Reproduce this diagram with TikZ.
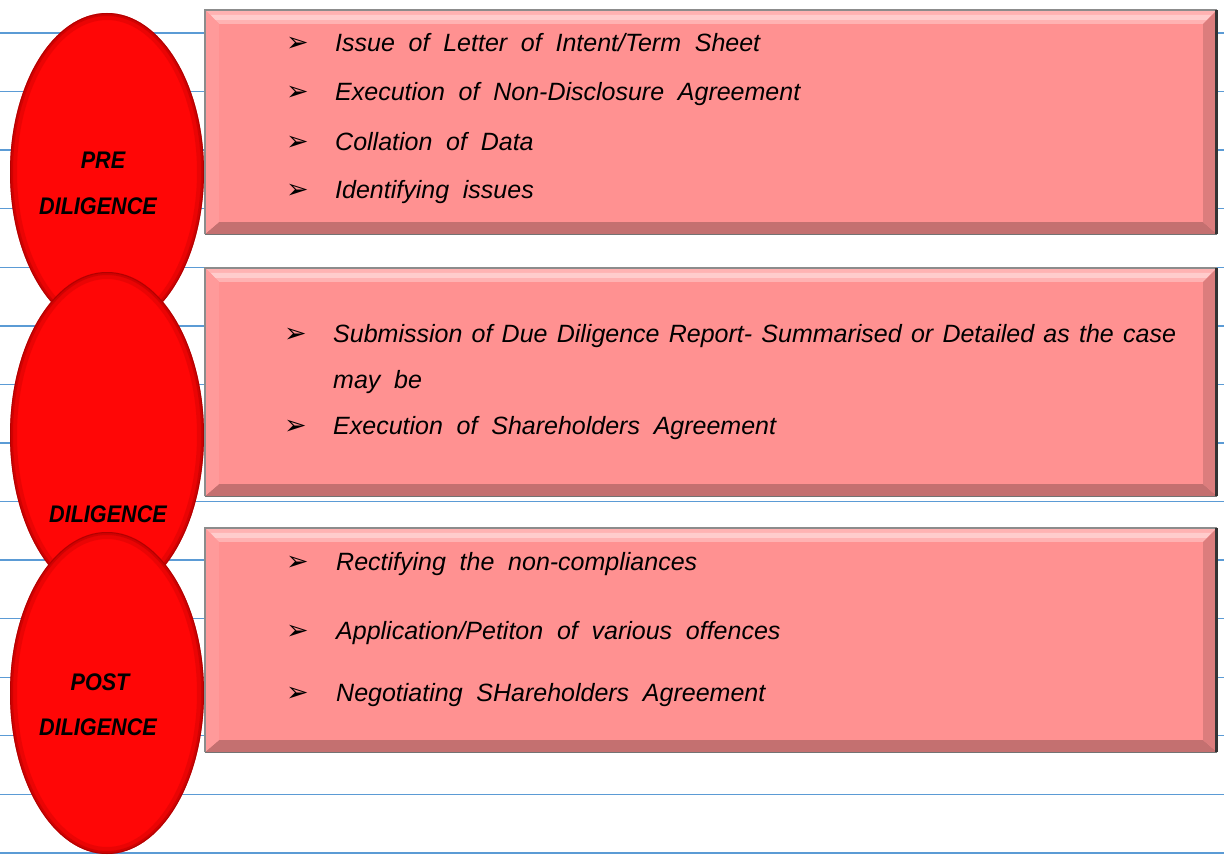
\documentclass[tikz,border=0pt]{standalone}
\usepackage{fontspec}
\setmainfont{Liberation Sans}
\newfontfamily\symf{DejaVu Sans}
\usetikzlibrary{shapes.geometric,calc}
\definecolor{gridblue}{RGB}{91,155,213}
\definecolor{boxpink}{RGB}{255,145,145}
\definecolor{boxlight}{RGB}{255,178,178}
\definecolor{boxdark}{RGB}{196,112,112}
\definecolor{ovalred}{RGB}{255,6,6}
\definecolor{ovaldark}{RGB}{150,0,0}
\newcommand\itemfont{\fontsize{25}{30}\selectfont\itshape\spaceskip=0.55em plus 0.1em\relax}
\newcommand\narrowitemfont{\fontsize{25}{30}\selectfont\itshape\spaceskip=0.37em plus 0.1em\relax}
\tikzset{
  gridline/.style={draw=gridblue,line width=1.3pt},
  oval/.style={ellipse,fill=ovalred,inner sep=0pt,minimum width=194pt},
  pinkbox/.style={rectangle,fill=boxpink,inner sep=0pt,minimum width=1012pt},
  item/.style={anchor=base west,inner sep=0pt,font=\itemfont},
  bul/.style={anchor=base west,inner sep=0pt,font=\symf\fontsize{27}{28}\selectfont},
  lab/.style={inner sep=0pt,font=\fontsize{24}{26}\selectfont\bfseries\itshape,xscale=0.9}
}
\newcommand\ovalbevel[1]{%
  \begin{scope}
    \clip (#1.center) ellipse [x radius=97pt,y radius=\ovr];
    \draw[ovaldark,opacity=0.2,line width=14pt] (#1.center) ellipse [x radius=97pt,y radius=\ovr];
    \draw[ovaldark,opacity=0.3,line width=6pt] (#1.center) ellipse [x radius=97pt,y radius=\ovr];
    \draw[ovaldark,opacity=0.5,line width=2pt] (#1.center) ellipse [x radius=97pt,y radius=\ovr];
  \end{scope}}
\newcommand\boxbevel[1]{%
  \fill[boxlight] (#1.north west) -- (#1.north east) -- ([xshift=-14pt,yshift=-14pt]#1.north east) -- ([xshift=14pt,yshift=-14pt]#1.north west) -- cycle;
  \fill[white,opacity=0.35] ([xshift=6pt,yshift=-5pt]#1.north west) -- ([xshift=-6pt,yshift=-5pt]#1.north east) -- ([xshift=-10pt,yshift=-10pt]#1.north east) -- ([xshift=10pt,yshift=-10pt]#1.north west) -- cycle;
  \fill[boxdark] (#1.south west) -- (#1.south east) -- ([xshift=-14pt,yshift=12pt]#1.south east) -- ([xshift=14pt,yshift=12pt]#1.south west) -- cycle;
  \fill[boxdark!60!boxpink] (#1.north east) -- (#1.south east) -- ([xshift=-14pt,yshift=12pt]#1.south east) -- ([xshift=-14pt,yshift=-14pt]#1.north east) -- cycle;
  \fill[boxpink!92!white] (#1.north west) -- (#1.south west) -- ([xshift=14pt,yshift=12pt]#1.south west) -- ([xshift=14pt,yshift=-14pt]#1.north west) -- cycle;
  \draw[black!45,line width=1.5pt] (#1.south west) -- (#1.north west) -- (#1.north east);
  \draw[black!55,line width=1.2pt] (#1.south west) -- (#1.south east);
  \draw[black!80,line width=3pt] ([xshift=-1pt]#1.north east) -- ([xshift=-1pt]#1.south east);
}
\begin{document}
\begin{tikzpicture}[x=1pt,y=-1pt]
\useasboundingbox (0,0) rectangle (1224,856);
% ruled lines
\foreach \k in {0,...,14}{
  \draw[gridline] (0,{33+\k*58.57}) -- (1224,{33+\k*58.57});
}
% ovals
\def\ovr{159pt}
\node[oval,minimum height=318pt] (e1) at (107,172) {};
\ovalbevel{e1}
\def\ovr{163pt}
\node[oval,minimum height=326pt] (e2) at (107,435) {};
\ovalbevel{e2}
\def\ovr{161pt}
\node[oval,minimum height=322pt] (e3) at (107,693) {};
\ovalbevel{e3}
\node[lab] (l1a) at (103,160) {PRE};
\node[lab] (l1b) at (98,206) {DILIGENCE};
\node[lab] (l2) at (108,514) {DILIGENCE};
\node[lab] (l3a) at (100,682) {POST};
\node[lab] (l3b) at (98,727) {DILIGENCE};
% boxes
\node[pinkbox,minimum height=224pt] (b1) at (711,122) {};
\boxbevel{b1}
\node[pinkbox,minimum height=228pt] (b2) at (711,382) {};
\boxbevel{b2}
\node[pinkbox,minimum height=224pt] (b3) at (711,640) {};
\boxbevel{b3}
% box 1 items
\node[bul] (ba1) at (286,52) {➢};
\node[item] (ta1) at (335,52) {Issue of Letter of Intent/Term Sheet};
\node[bul] (ba2) at (286,101) {➢};
\node[item] (ta2) at (335,101) {Execution of Non-Disclosure Agreement};
\node[bul] (ba3) at (286,150) {➢};
\node[item] (ta3) at (335,150) {Collation of Data};
\node[bul] (ba4) at (286,198) {➢};
\node[item] (ta4) at (335,198) {Identifying issues};
% box 2 items
\node[bul] (bb1) at (284,342) {➢};
\node[item,font=\narrowitemfont] (tb1) at (333,342) {Submission of Due Diligence Report- Summarised or Detailed as the case};
\node[item] (tb1b) at (333,388) {may be};
\node[bul] (bb2) at (284,434) {➢};
\node[item] (tb2) at (333,434) {Execution of Shareholders Agreement};
% box 3 items
\node[bul] (bc1) at (286,570) {➢};
\node[item] (tc1) at (336,570) {Rectifying the non-compliances};
\node[bul] (bc2) at (286,639) {➢};
\node[item] (tc2) at (336,639) {Application/Petiton of various offences};
\node[bul] (bc3) at (286,701) {➢};
\node[item] (tc3) at (336,701) {Negotiating SHareholders Agreement};
\end{tikzpicture}
\end{document}
